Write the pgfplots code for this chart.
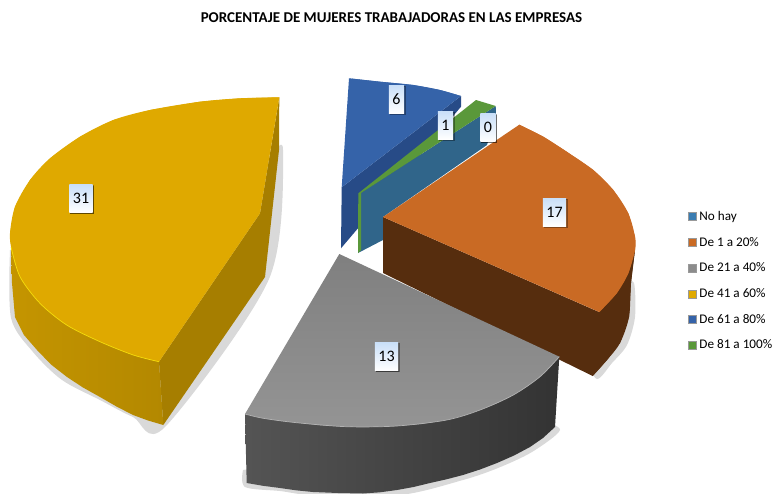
\documentclass[border=0pt]{standalone}
\usepackage{pgfplots}
\usepackage{fontspec}
\setmainfont{Carlito}
\pgfplotsset{compat=1.18}
\usetikzlibrary{shadows}
\definecolor{ytop}{HTML}{DFA900}
\definecolor{yside}{HTML}{B38800}
\definecolor{yside2}{HTML}{A67E00}
\definecolor{otop}{HTML}{C96A24}
\definecolor{oside}{HTML}{562D0E}
\definecolor{gtop}{HTML}{8C8C8C}
\definecolor{bltop}{HTML}{3563A9}
\definecolor{blside}{HTML}{274B87}
\definecolor{grtop}{HTML}{5A983A}
\definecolor{teal2}{HTML}{30658A}
\definecolor{nohay}{HTML}{3A7DB2}
\definecolor{boxtop}{HTML}{C9DFF8}
\pgfplotstableread{
x y
10 250
11 318
33 352
62 380
100 400
133 417
165 427
269 279
283 150
270 160
}\yshadow
\pgfplotstableread{
x y
243 470
245 487
280 491
313 495
400 495
463 480
498 468
532 452
560 430
540 420
}\gshadow
\pgfplotstableread{
x y
625 283
634 283
635 317
627 345
612 363
597 379
585 360
}\oshadow
\begin{document}
\begin{tikzpicture}
\begin{axis}[
  scale only axis, width=774pt, height=493pt,
  xmin=0, xmax=774, ymin=0, ymax=493, y dir=reverse,
  axis line style={draw=none}, ticks=none,
  title={\fontsize{15}{15}\selectfont\bfseries PORCENTAJE DE MUJERES TRABAJADORAS EN LAS EMPRESAS},
  title style={at={(axis cs:391.5,24)},anchor=center,inner sep=0pt},
  legend style={at={(axis cs:688,211)},anchor=north west,draw=none,fill=none,
    font=\fontsize{13.2}{13.2}\selectfont, inner sep=0pt, row sep=15.2pt,
    nodes={inner sep=0pt,anchor=west}},
  legend cell align=left,
  legend image code/.code={\path[#1,draw=black!40,line width=.4pt] (0pt,-4pt) -- (7.5pt,-4pt) -- (7.5pt,4pt) -- (0pt,4pt) -- cycle; \path[draw=none,fill=none] (0pt,0pt) -- (11pt,0pt);},
]
% shadows
\addplot[smooth,fill=gray,draw=none,opacity=.3,forget plot] table {\yshadow};
\addplot[smooth,fill=gray,draw=none,opacity=.3,forget plot] table {\gshadow};
\addplot[smooth,fill=gray,draw=none,opacity=.3,forget plot] table {\oshadow};
% De 61 a 80%
\addplot[fill=blside,draw=none,forget plot] coordinates {(461,96)(461,106.7)(341,248.3)(341.7,187.3)};
\addplot[fill=bltop,draw=none,forget plot] coordinates {(349,78.3)(380,81.7)(413.3,85)(440,90)(461,96)(341.7,187.3)};
\addplot[smooth,fill=bltop,draw=none,forget plot] coordinates {(349,78.3)(380,81.7)(413.3,85)(440,90)(461,96)};
% No hay (0): only the inner face shows
\addplot[fill=teal2,draw=none,forget plot] coordinates {(361,193)(495.7,106)(496,115)(487,145)(383,217)(383,240)(358,253)};
% De 1 a 20%
\addplot[fill=oside,draw=none,forget plot] coordinates {(383,217)(383,273)(592.7,376)(607,360)(620,343)(629,317)(631,283)(635,250)(599,312)};
\addplot[smooth,fill=oside,draw=none,forget plot] coordinates {(592.7,376)(607,360)(620,343)(629,317)(631,283)(635,250)};
\addplot[fill=otop,draw=none,forget plot] coordinates {(383,217)(519.3,124.7)(543.3,136.7)(566.7,151.7)(593.3,170)(613.3,190)(628.3,213.3)(635,236.7)(635,250)(628.3,273.3)(616.7,293.3)(599.3,312)};
\addplot[smooth,fill=otop,draw=none,forget plot] coordinates {(519.3,124.7)(543.3,136.7)(566.7,151.7)(593.3,170)(613.3,190)(628.3,213.3)(635,236.7)(635,250)(628.3,273.3)(616.7,293.3)(599.3,312)};
% De 21 a 40%
\addplot[left color=black!67,right color=black!80,draw=none,forget plot] coordinates {(245,414)(246.7,483)(263,485.8)(280,488)(296,490.3)(313,492)(338,493)(363,493.5)(380,492.3)(397,490)(413.5,487)(430,483)(446.5,479.3)(463,475)(480,469.5)(497,463)(514,455.5)(530,447)(543,438)(555,427)(559.3,356.7)};
\addplot[top color=black!50,bottom color=black!42,draw=none,forget plot] coordinates {(339.3,254)(559.3,356.7)(550,367.3)(540,376.7)(527,386.6)(513.3,395)(497,403.2)(480,410)(463.6,415.6)(446.7,420)(422,424)(396.7,426)(372,427)(346.7,426.7)(321.5,425.4)(296.7,422.7)(280,420.9)(263.3,418.3)(254,416.2)(245,414)};
\addplot[smooth,black!30,line width=.7pt,forget plot] coordinates {(245,414)(263.3,418.3)(296.7,422.7)(346.7,426.7)(396.7,426)(446.7,420)(480,410)(513.3,395)(540,376.7)(559.3,356.7)};
% De 41 a 60%
\addplot[fill=yside2,draw=none,forget plot] coordinates {(279.3,97.3)(279,150)(265,277)(163.3,425)(159,361.7)(260,213.3)};
\addplot[left color=ytop!88!black,right color=yside,draw=none,forget plot] coordinates {(11,247)(12,283)(15,317)(24,335)(37,350)(51,364.5)(67,377)(83,387.5)(100,397)(116.5,406.5)(133,415)(148,420.5)(163.3,425)(159,361.7)(100,300)};
\addplot[fill=ytop,draw=none,forget plot] coordinates {(159,361.7)(133.3,355)(100,341.7)(66.7,325)(40,303.3)(20,276.7)(11.7,250)(10,233.3)(15,206.7)(30,180)(50,158.3)(80,136.7)(113.3,120)(150,110)(200,101.7)(240,98.3)(279.3,97.3)(260,213.3)};
\addplot[smooth,fill=ytop,draw=none,forget plot] coordinates {(159,361.7)(133.3,355)(100,341.7)(66.7,325)(40,303.3)(20,276.7)(11.7,250)(10,233.3)(15,206.7)(30,180)(50,158.3)(80,136.7)(113.3,120)(150,110)(200,101.7)(240,98.3)(279.3,97.3)};
\addplot[smooth,yellow!70!ytop,line width=.7pt,forget plot] coordinates {(11,247)(20,276.7)(40,303.3)(66.7,325)(100,341.7)(133.3,355)(159,361.7)};
% De 81 a 100%
\addplot[fill=grtop,draw=none,forget plot] coordinates {(358.3,193.3)(476,100)(495.7,106)(361,193)(361,250)(358,253)};
% value labels
\addplot[only marks, mark=none, forget plot,
  point meta=explicit symbolic,
  nodes near coords,
  nodes near coords align={center},
  every node near coord/.style={
    font=\fontsize{16}{16}\selectfont, text=black, anchor=center,
    top color=boxtop, bottom color=white,
    inner xsep=3.5pt, inner ysep=0pt, minimum height=28pt,
    drop shadow={shadow xshift=1pt,shadow yshift=-1pt,fill=black,opacity=.35}},
] coordinates {
 (396.5,99)[6] (445.5,125)[1] (488,127.5)[0] (554.5,212)[17] (81,198.5)[31] (386.5,356.5)[13]
};
\addlegendimage{fill=nohay}
\addlegendimage{fill=otop}
\addlegendimage{fill=gtop}
\addlegendimage{fill=ytop}
\addlegendimage{fill=bltop}
\addlegendimage{fill=grtop}
\legend{No hay,De 1 a 20\%,De 21 a 40\%,De 41 a 60\%,De 61 a 80\%,De 81 a 100\%}
\end{axis}
\end{tikzpicture}
\end{document}
